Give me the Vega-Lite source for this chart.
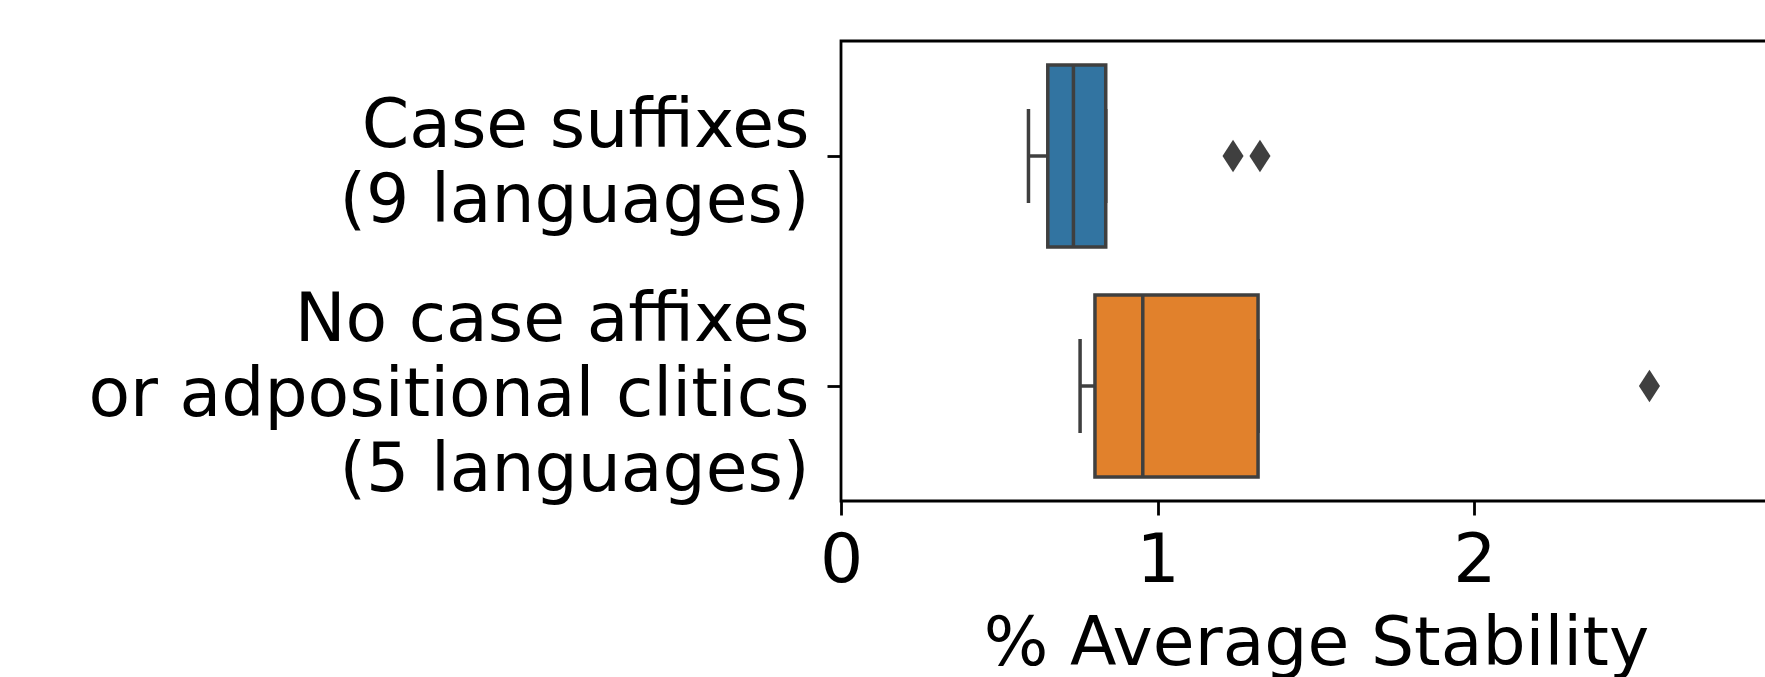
{
  "$schema": "https://vega.github.io/schema/vega-lite/v6.json",
  "width": 950,
  "height": 460,
  "autosize": {"type": "none"},
  "padding": {"left": 841, "top": 41, "right": -26, "bottom": 176},
  "background": "white",
  "config": {
    "view": {"stroke": "#000000", "strokeWidth": 2.8},
    "font": "DejaVu Sans",
    "axis": {"grid": false, "domain": false, "tickColor": "#000000", "tickWidth": 2.8, "tickSize": 14, "labelColor": "#000000", "labelFont": "DejaVu Sans", "titleFont": "DejaVu Sans", "labelFontSize": 68, "titleFontSize": 68, "titleFontWeight": "normal", "titleColor": "#000000"}
  },
  "data": {
    "values": [
      {"group": "Case suffixes\n(9 languages)", "value": 0.592},
      {"group": "Case suffixes\n(9 languages)", "value": 0.62},
      {"group": "Case suffixes\n(9 languages)", "value": 0.653},
      {"group": "Case suffixes\n(9 languages)", "value": 0.70},
      {"group": "Case suffixes\n(9 languages)", "value": 0.734},
      {"group": "Case suffixes\n(9 languages)", "value": 0.78},
      {"group": "Case suffixes\n(9 languages)", "value": 0.836},
      {"group": "Case suffixes\n(9 languages)", "value": 1.238},
      {"group": "Case suffixes\n(9 languages)", "value": 1.323},
      {"group": "No case affixes\nor adpositional clitics\n(5 languages)", "value": 0.755},
      {"group": "No case affixes\nor adpositional clitics\n(5 languages)", "value": 0.802},
      {"group": "No case affixes\nor adpositional clitics\n(5 languages)", "value": 0.953},
      {"group": "No case affixes\nor adpositional clitics\n(5 languages)", "value": 1.317},
      {"group": "No case affixes\nor adpositional clitics\n(5 languages)", "value": 2.553}
    ]
  },
  "transform": [
    {"joinaggregate": [
      {"op": "q1", "field": "value", "as": "q1"},
      {"op": "q3", "field": "value", "as": "q3"}
    ], "groupby": ["group"]},
    {"calculate": "datum.value < datum.q1 - 1.5 * (datum.q3 - datum.q1) || datum.value > datum.q3 + 1.5 * (datum.q3 - datum.q1)", "as": "outlier"}
  ],
  "encoding": {
    "y": {
      "field": "group",
      "type": "nominal",
      "sort": ["Case suffixes\n(9 languages)", "No case affixes\nor adpositional clitics\n(5 languages)"],
      "scale": {"paddingInner": 0, "paddingOuter": 0},
      "axis": {
        "title": null,
        "labelExpr": "split(datum.label, '\\n')",
        "labelLineHeight": 75,
        "labelPadding": 18,
        "labelLimit": 1000,
        "labelBaseline": "alphabetic",
        "labelOffset": {"condition": {"test": "indexof(datum.label, 'No case') >= 0", "value": -45}, "value": -9}
      }
    }
  },
  "layer": [
    {
      "transform": [
        {"filter": "!datum.outlier"},
        {"aggregate": [
          {"op": "min", "field": "value", "as": "wmin"},
          {"op": "max", "field": "value", "as": "wmax"}
        ], "groupby": ["group"]}
      ],
      "layer": [
        {
          "mark": {"type": "rule", "color": "#3f3f3f", "strokeWidth": 3.5},
          "encoding": {
            "x": {"field": "wmin", "type": "quantitative", "scale": {"domain": [0, 3], "nice": false}},
            "x2": {"field": "wmax"}
          }
        },
        {
          "mark": {"type": "tick", "color": "#3f3f3f", "size": 94, "thickness": 3.5, "opacity": 1},
          "encoding": {"x": {"field": "wmin", "type": "quantitative"}}
        },
        {
          "mark": {"type": "tick", "color": "#3f3f3f", "size": 94, "thickness": 3.5, "opacity": 1},
          "encoding": {"x": {"field": "wmax", "type": "quantitative"}}
        }
      ]
    },
    {
      "mark": {"type": "bar", "size": 182, "stroke": "#3f3f3f", "strokeWidth": 3.5, "opacity": 1},
      "encoding": {
        "x": {"aggregate": "q1", "field": "value", "type": "quantitative"},
        "x2": {"aggregate": "q3", "field": "value"},
        "color": {
          "field": "group",
          "type": "nominal",
          "scale": {"domain": ["Case suffixes\n(9 languages)", "No case affixes\nor adpositional clitics\n(5 languages)"], "range": ["#3274a1", "#e1812c"]},
          "legend": null
        }
      }
    },
    {
      "mark": {"type": "tick", "color": "#3f3f3f", "size": 182, "thickness": 3.5, "opacity": 1},
      "encoding": {
        "x": {"aggregate": "median", "field": "value", "type": "quantitative"}
      }
    },
    {
      "transform": [{"filter": "datum.outlier"}],
      "mark": {"type": "point", "shape": "M0,-1L0.65,0L0,1L-0.65,0Z", "filled": true, "color": "#3f3f3f", "size": 1050, "opacity": 1, "strokeWidth": 0},
      "encoding": {
        "x": {
          "field": "value",
          "type": "quantitative",
          "axis": {
            "values": [0, 1, 2],
            "format": "d",
            "labelFlush": false,
            "labelPadding": 12,
            "title": "% Average Stability",
            "titleX": 475,
            "titleY": 163,
            "titleAlign": "center",
            "titleBaseline": "alphabetic"
          }
        }
      }
    }
  ]
}
